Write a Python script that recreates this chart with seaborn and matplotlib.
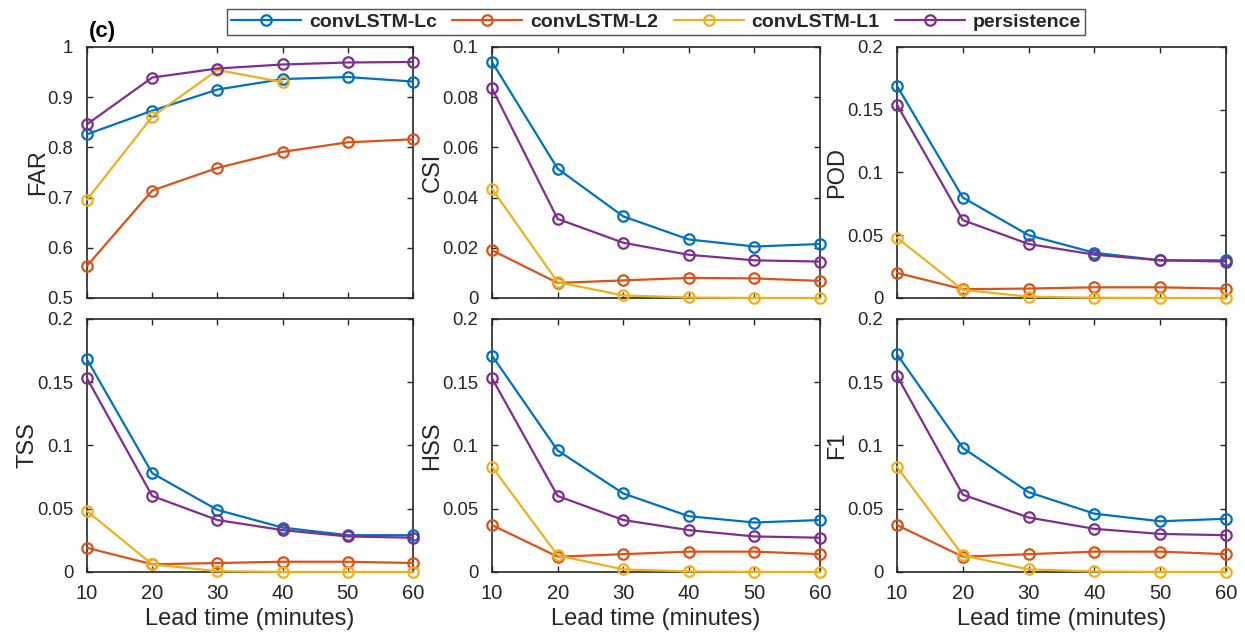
import pandas as pd
import matplotlib
matplotlib.use("Agg")
import matplotlib.pyplot as plt
import matplotlib.ticker as mticker
import seaborn as sns

lead_time = [10, 20, 30, 40, 50, 60]
models = ["convLSTM-Lc", "convLSTM-L2", "convLSTM-L1", "persistence"]
colors = ["#0072BD", "#D95319", "#EDB120", "#7E2F8E"]

# values, one list per model and metric
far_lc = [0.826, 0.873, 0.915, 0.936, 0.940, 0.931]
far_l2 = [0.564, 0.714, 0.759, 0.791, 0.810, 0.816]
far_l1 = [0.696, 0.861, 0.954, 0.930]
far_pe = [0.846, 0.939, 0.957, 0.965, 0.969, 0.970]

csi_lc = [0.094, 0.0515, 0.0325, 0.0233, 0.0205, 0.0215]
csi_l2 = [0.019, 0.006, 0.007, 0.008, 0.0078, 0.0068]
csi_l1 = [0.0435, 0.0063, 0.001, 0.0002, 0.0, 0.0]
csi_pe = [0.0835, 0.0315, 0.022, 0.0172, 0.015, 0.0145]

pod_lc = [0.169, 0.080, 0.050, 0.036, 0.030, 0.030]
pod_l2 = [0.020, 0.007, 0.0075, 0.0085, 0.0085, 0.0075]
pod_l1 = [0.048, 0.0065, 0.001, 0.0002, 0.0, 0.0]
pod_pe = [0.154, 0.062, 0.043, 0.0345, 0.030, 0.029]

tss_lc = [0.168, 0.078, 0.049, 0.035, 0.029, 0.029]
tss_l2 = [0.019, 0.006, 0.007, 0.008, 0.008, 0.007]
tss_l1 = [0.048, 0.006, 0.0005, 0.0, 0.0, 0.0]
tss_pe = [0.153, 0.060, 0.041, 0.033, 0.028, 0.027]

hss_lc = [0.171, 0.096, 0.062, 0.044, 0.039, 0.041]
hss_l2 = [0.037, 0.012, 0.014, 0.016, 0.016, 0.014]
hss_l1 = [0.083, 0.013, 0.002, 0.0003, 0.0, 0.0]
hss_pe = [0.153, 0.060, 0.041, 0.033, 0.028, 0.027]

f1_lc = [0.172, 0.098, 0.063, 0.046, 0.040, 0.042]
f1_l2 = [0.037, 0.012, 0.014, 0.016, 0.016, 0.014]
f1_l1 = [0.083, 0.013, 0.002, 0.0003, 0.0, 0.0]
f1_pe = [0.155, 0.061, 0.043, 0.034, 0.030, 0.029]

panels = [
    ("FAR", [far_lc, far_l2, far_l1, far_pe], (0.5, 1.0), 0.1),
    ("CSI", [csi_lc, csi_l2, csi_l1, csi_pe], (0.0, 0.1), 0.02),
    ("POD", [pod_lc, pod_l2, pod_l1, pod_pe], (0.0, 0.2), 0.05),
    ("TSS", [tss_lc, tss_l2, tss_l1, tss_pe], (0.0, 0.2), 0.05),
    ("HSS", [hss_lc, hss_l2, hss_l1, hss_pe], (0.0, 0.2), 0.05),
    ("F1", [f1_lc, f1_l2, f1_l1, f1_pe], (0.0, 0.2), 0.05),
]

sns.set_style("ticks")
plt.rcParams["font.family"] = ["Liberation Sans", "DejaVu Sans"]
plt.rcParams["xtick.direction"] = "in"
plt.rcParams["ytick.direction"] = "in"

fig = plt.figure(figsize=(12.45, 6.34), dpi=100)

lefts = [0.0699, 0.3952, 0.7205]
widths = [0.2618, 0.2635, 0.2643]
bottoms = [0.530, 0.098]
heights = [0.396, 0.399]

axc = "#262626"
for i, (name, series, ylim, step) in enumerate(panels):
    row, col = divmod(i, 3)
    ax = fig.add_axes([lefts[col], bottoms[row], widths[col], heights[row]])
    for label, vals, c in zip(models, series, colors):
        df = pd.DataFrame({"lead": lead_time[:len(vals)], "val": vals})
        sns.lineplot(data=df, x="lead", y="val", ax=ax, color=c, label=label,
                     marker="o", markersize=7.5, markerfacecolor="none",
                     markeredgecolor=c, markeredgewidth=1.6, linewidth=1.6,
                     clip_on=False, zorder=3)
    ax.set_xlim(10, 60)
    ax.set_ylim(*ylim)
    ax.set_xticks(lead_time)
    ax.yaxis.set_major_locator(mticker.MultipleLocator(step))
    ax.yaxis.set_major_formatter(mticker.FormatStrFormatter("%g"))
    ax.tick_params(top=True, right=True, colors=axc, length=4, width=1)
    ax.tick_params(axis="x", pad=9, labelsize=14.5)
    ax.tick_params(axis="y", pad=10, labelsize=13.3)
    for sp in ax.spines.values():
        sp.set_color(axc)
        sp.set_linewidth(1.2)
    ax.set_ylabel(name, fontsize=17, color=axc, labelpad=-1)
    if row == 0:
        ax.set_xticklabels([])
        ax.set_xlabel("")
    else:
        ax.set_xlabel("Lead time (minutes)", fontsize=17, color=axc, labelpad=3)
    if i == 0:
        handles, labels = ax.get_legend_handles_labels()
    ax.get_legend().remove()

leg = fig.legend(handles, labels, loc="center", ncol=4,
                 bbox_to_anchor=(0.527, 0.965), frameon=True, fancybox=False,
                 handlelength=3.6, columnspacing=0.8, handletextpad=0.4,
                 borderpad=0.2, borderaxespad=0.0,
                 prop={"weight": "bold", "size": 14})
leg.get_frame().set_edgecolor(axc)
leg.get_frame().set_linewidth(1.0)

fig.text(0.0715, 0.951, "(c)", fontsize=16, fontweight="bold", color="black",
         va="center", ha="left")

fig.savefig("out.png", dpi=100)
